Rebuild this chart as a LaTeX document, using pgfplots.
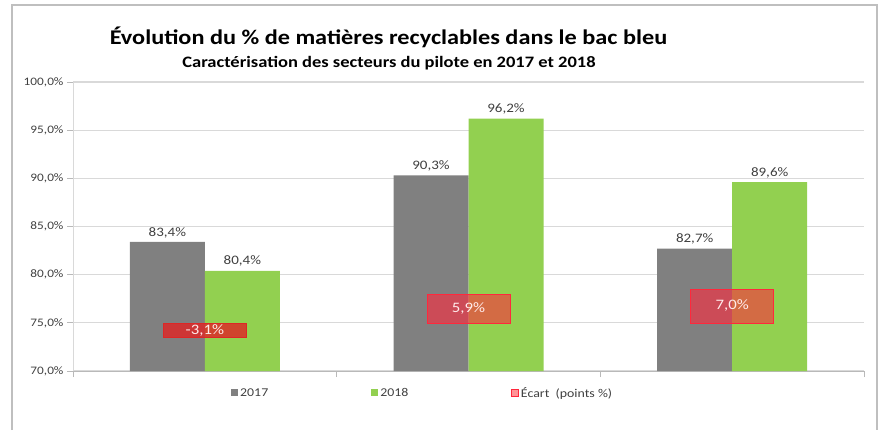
\documentclass[border=0pt]{standalone}
\usepackage{pgfplots}
\pgfplotsset{compat=1.18}
\usepackage{graphicx}
\usepackage{fontspec}
\setmainfont{Carlito}
\newcommand\sx[1]{\scalebox{1.16}[1]{#1}}
\definecolor{gris}{RGB}{128,128,128}
\definecolor{vert}{RGB}{146,208,80}
\definecolor{gridc}{RGB}{217,217,217}
\definecolor{txt}{RGB}{64,64,64}
\definecolor{ecartA}{RGB}{222,38,38}
\definecolor{ecartB}{RGB}{255,40,60}
\definecolor{ecartL}{RGB}{255,124,128}
\begin{document}
\begin{tikzpicture}[x=1bp,y=1bp]
\useasboundingbox (0,0) rectangle (886,430);
\draw[color=gray!50, line width=1.2bp] (12,0) -- (12,425) -- (877,425) -- (877,0);
\node[font=\bfseries\fontsize{21}{24}\selectfont, text=black] at (388.5,393) {\sx{Évolution du \% de matières recyclables dans le bac bleu}};
\node[font=\bfseries\fontsize{16}{18}\selectfont, text=black] at (389,367) {\sx{Caractérisation des secteurs du pilote en 2017 et 2018}};
\begin{axis}[
  at={(73bp,59bp)}, anchor=south west, scale only axis,
  width=791bp, height=289bp,
  xmin=-0.5, xmax=2.5, ymin=70, ymax=100,
  ytick={70,75,...,100},
  xtick={-0.5,0.5,1.5,2.5}, xticklabels={},
  ymajorgrids, grid style={color=gridc, line width=1.3bp},
  axis x line*=bottom, axis y line*=left,
  x axis line style={color=gray!55, line width=1bp, -},
  y axis line style={color=gridc, line width=1bp, -},
  tick align=outside, major tick length=6bp,
  tick style={color=gray!55, line width=0.8bp},
  /pgf/number format/assume math mode=true,
  yticklabel={\sx{\pgfmathprintnumber[fixed,fixed zerofill,precision=1,use comma]{\tick}\%}},
  yticklabel style={font=\fontsize{11.5}{14}\selectfont, text=txt},
  legend columns=3,
  legend cell align=left,
  legend style={draw=none, fill=none, at={(0.1997,-0.076)}, anchor=west,
    inner sep=0pt, font=\fontsize{12}{14}\selectfont, text=txt,
    /tikz/every even column/.append style={column sep=101bp}},
]
\addplot[ybar, bar width=75bp, bar shift=-37.5bp, fill=gris, draw=none,
  nodes near coords={\sx{\pgfmathprintnumber[fixed,fixed zerofill,precision=1,use comma,assume math mode=true]{\pgfplotspointmeta}\%}},
  every node near coord/.append style={font=\fontsize{13}{15}\selectfont, text=txt, inner sep=4bp, xshift=-37.5bp},
  legend image code/.code={\fill[gris] (0,-3.5bp) rectangle (7bp,3.5bp);}]
  coordinates {(0,83.4) (1,90.3) (2,82.7)};
\addlegendentry{\sx{2017}}
\addplot[ybar, bar width=75bp, bar shift=37.5bp, fill=vert, draw=none,
  nodes near coords={\sx{\pgfmathprintnumber[fixed,fixed zerofill,precision=1,use comma,assume math mode=true]{\pgfplotspointmeta}\%}},
  every node near coord/.append style={font=\fontsize{13}{15}\selectfont, text=txt, inner sep=4bp, xshift=37.5bp},
  legend image code/.code={\fill[vert] (0,-3.5bp) rectangle (7bp,3.5bp);}]
  coordinates {(0,80.4) (1,96.2) (2,89.6)};
\addlegendentry{\sx{2018}}
\addplot[fill=ecartA, fill opacity=0.82, draw=ecartA, line width=0.6bp,
  legend image code/.code={\draw[fill=ecartL, draw=ecartB, line width=0.6bp] (0,-3.5bp) rectangle (7bp,3.5bp);}]
  coordinates {(-0.1575,75) (0.1575,75) (0.1575,73.45) (-0.1575,73.45)} -- cycle;
\addlegendentry{\sx{Écart~~(points~\%)}}
\addplot[fill=ecartB, fill opacity=0.6, draw=ecartB, line width=0.6bp, forget plot]
  coordinates {(0.8425,75) (1.1575,75) (1.1575,77.95) (0.8425,77.95)} -- cycle;
\addplot[fill=ecartB, fill opacity=0.6, draw=ecartB, line width=0.6bp, forget plot]
  coordinates {(1.8425,75) (2.1575,75) (2.1575,78.5) (1.8425,78.5)} -- cycle;
\node[text=white!92!red, font=\fontsize{14.5}{16}\selectfont] at (axis cs:0,74.2) {\sx{-3,1\%}};
\node[text=white!92!red, font=\fontsize{14.5}{16}\selectfont] at (axis cs:1,76.47) {\sx{5,9\%}};
\node[text=white!92!red, font=\fontsize{14.5}{16}\selectfont] at (axis cs:2,76.75) {\sx{7,0\%}};
\end{axis}
\end{tikzpicture}
\end{document}
